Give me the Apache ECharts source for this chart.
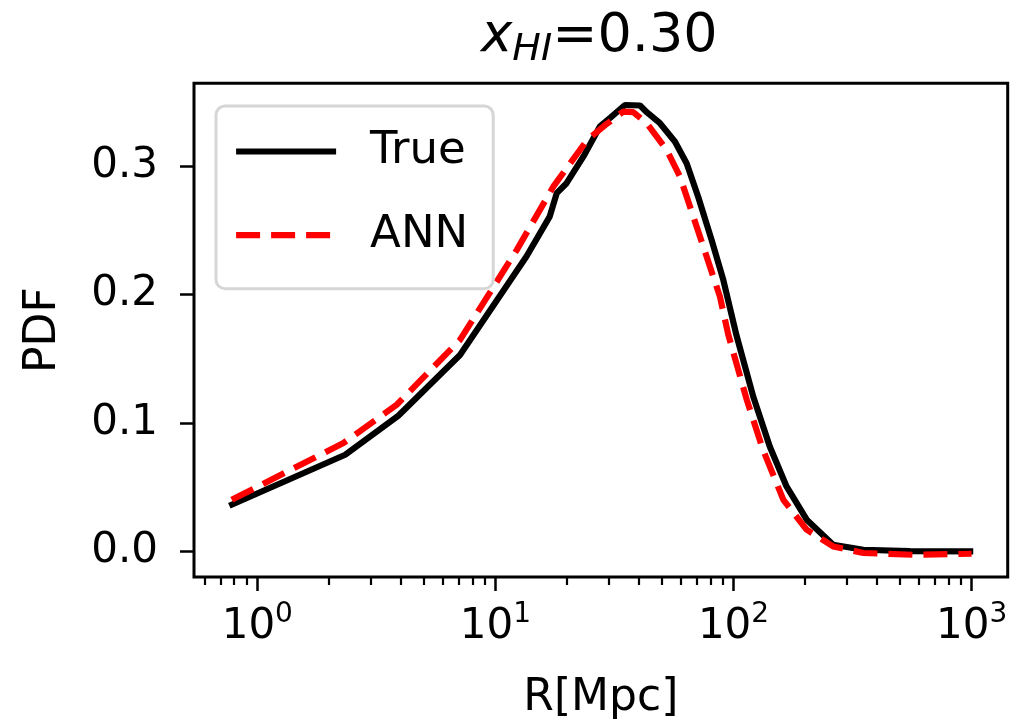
<!DOCTYPE html>
<html>
<head>
<meta charset="utf-8">
<script src="https://cdn.jsdelivr.net/npm/echarts@6/dist/echarts.min.js"></script>
<style>
  html, body { margin: 0; padding: 0; background: #fff; }
  #chart { width: 1015px; height: 726px; }
</style>
</head>
<body>
<div id="chart"></div>
<script>
// R in Mpc (log x axis), PDF values
var trueR   = [0.763, 2.34, 3.91, 7.1, 13.5, 16.9, 18.1, 19.9, 23.4, 27.5, 30.5, 35.0, 40.5, 43.2, 49.1, 56.8, 63.6, 71.1, 80.9, 90.6, 103, 121, 142, 167, 203, 262, 351, 550, 1016];
var truePdf = [0.0356, 0.0753, 0.1056, 0.153, 0.2296, 0.2607, 0.279, 0.2867, 0.3074, 0.331, 0.338, 0.3476, 0.3472, 0.342, 0.3334, 0.319, 0.302, 0.276, 0.2426, 0.2114, 0.168, 0.1206, 0.0817, 0.0506, 0.0247, 0.0052, 0.0013, 0.0003, 0.0];

var annR   = [0.781, 2.30, 3.85, 7.1, 12.3, 17.5, 24.2, 28.9, 34.5, 37.9, 43.2, 52.4, 59.6, 67.8, 77.1, 87.7, 95.0, 113.7, 133, 162, 203, 262, 351, 569, 1000];
var annPdf = [0.0402, 0.0844, 0.1142, 0.1647, 0.2348, 0.284, 0.320, 0.332, 0.3425, 0.342, 0.3334, 0.3126, 0.2918, 0.2607, 0.2296, 0.1984, 0.169, 0.118, 0.0791, 0.0402, 0.0169, 0.0039, -0.0012, -0.0026, -0.0018];

// tick marks
var xMajor = [1, 10, 100, 1000];
var xMinor = [0.6, 0.7, 0.8, 0.9, 2, 3, 4, 5, 6, 7, 8, 9, 20, 30, 40, 50, 60, 70, 80, 90, 200, 300, 400, 500, 600, 700, 800, 900];
var yTicks = [0.0, 0.1, 0.2, 0.3];

var FONT = 'DejaVu Sans';
var xMin = -0.2659, xMax = 3.1516;   // log10 range of the x axis

function pairs(rs, ps) {
  var out = [];
  for (var i = 0; i < rs.length; i++) out.push([Math.log10(rs[i]), ps[i]]);
  return out;
}
function logs(arr) { return arr.map(function (v) { return Math.log10(v); }); }

var chart = echarts.init(document.getElementById('chart'), null, { renderer: 'canvas' });

var option = {
  animation: false,
  backgroundColor: '#fff',
  title: {
    text: '{i|x}{sub|HI}{n|=0.30}',
    left: 476,
    top: 0,
    textStyle: {
      fontWeight: 'normal',
      rich: {
        i: { fontFamily: FONT, fontStyle: 'italic', fontWeight: 'normal', fontSize: 53, color: '#000' },
        sub: { fontFamily: FONT, fontStyle: 'italic', fontWeight: 'normal', fontSize: 38, color: '#000', padding: [26, 0, 0, 0] },
        n: { fontFamily: FONT, fontWeight: 'normal', fontSize: 54, color: '#000' }
      }
    }
  },
  legend: {
    orient: 'vertical',
    left: 216,
    top: 106,
    padding: [23, 25, 31, 17],
    itemWidth: 100,
    itemHeight: 30,
    itemGap: 38.7,
    borderColor: '#d6d6d6',
    borderWidth: 3,
    borderRadius: 9,
    backgroundColor: 'rgba(255,255,255,0.8)',
    itemStyle: { opacity: 0 },
    lineStyle: { width: 'inherit', type: 'inherit' },
    textStyle: { fontFamily: FONT, fontSize: 45, color: '#000', padding: [0, 0, 0, 29], lineHeight: 30 },
    data: ['True', 'ANN']
  },
  grid: {
    left: 194, right: 7.3, top: 83.3, bottom: 148.7,
    show: true, borderColor: '#000', borderWidth: 3, backgroundColor: 'transparent'
  },
  xAxis: [
    {
      type: 'value', min: xMin, max: xMax, position: 'bottom',
      name: 'R[Mpc]', nameLocation: 'middle', nameGap: 100,
      nameTextStyle: { fontFamily: FONT, fontSize: 44, color: '#000' },
      axisLine: { show: false, onZero: false },
      splitLine: { show: false },
      axisTick: { show: true, length: 14, lineStyle: { color: '#000', width: 2.5 }, customValues: logs(xMajor) },
      axisLabel: {
        customValues: logs(xMajor), margin: 24,
        formatter: function (v) { return '{b|10}{s|' + Math.round(v) + '}'; },
        rich: {
          b: { fontFamily: FONT, fontSize: 42, color: '#000' },
          s: { fontFamily: FONT, fontSize: 28, color: '#000', padding: [0, 0, 24, 0] }
        }
      }
    },
    {
      type: 'value', min: xMin, max: xMax, gridIndex: 0, position: 'bottom', offset: 0,
      axisLine: { show: false, onZero: false },
      splitLine: { show: false },
      axisLabel: { show: false },
      axisTick: { show: true, length: 8, lineStyle: { color: '#000', width: 2.2 }, customValues: logs(xMinor) }
    }
  ],
  yAxis: {
    type: 'value', min: -0.0199, max: 0.3645, position: 'left',
    name: 'PDF', nameLocation: 'middle', nameGap: 128, nameRotate: 90,
    nameTextStyle: { fontFamily: FONT, fontSize: 44, color: '#000' },
    axisLine: { show: false, onZero: false },
    splitLine: { show: false },
    axisTick: { show: true, length: 14, lineStyle: { color: '#000', width: 2.5 }, customValues: yTicks },
    axisLabel: {
      customValues: yTicks, margin: 36,
      fontFamily: FONT, fontSize: 42, color: '#000',
      formatter: function (v) { return v.toFixed(1); }
    }
  },
  series: [
    {
      name: 'True', type: 'line', xAxisIndex: 0, data: pairs(trueR, truePdf),
      symbol: 'none', lineStyle: { color: '#000', width: 6.2 }, itemStyle: { color: '#000' }, z: 2
    },
    {
      name: 'ANN', type: 'line', xAxisIndex: 0, data: pairs(annR, annPdf),
      symbol: 'none', lineStyle: { color: '#ff0000', width: 6.2, type: [24, 11] }, itemStyle: { color: '#ff0000' }, z: 3
    }
  ]
};
chart.setOption(option);
</script>
</body>
</html>
